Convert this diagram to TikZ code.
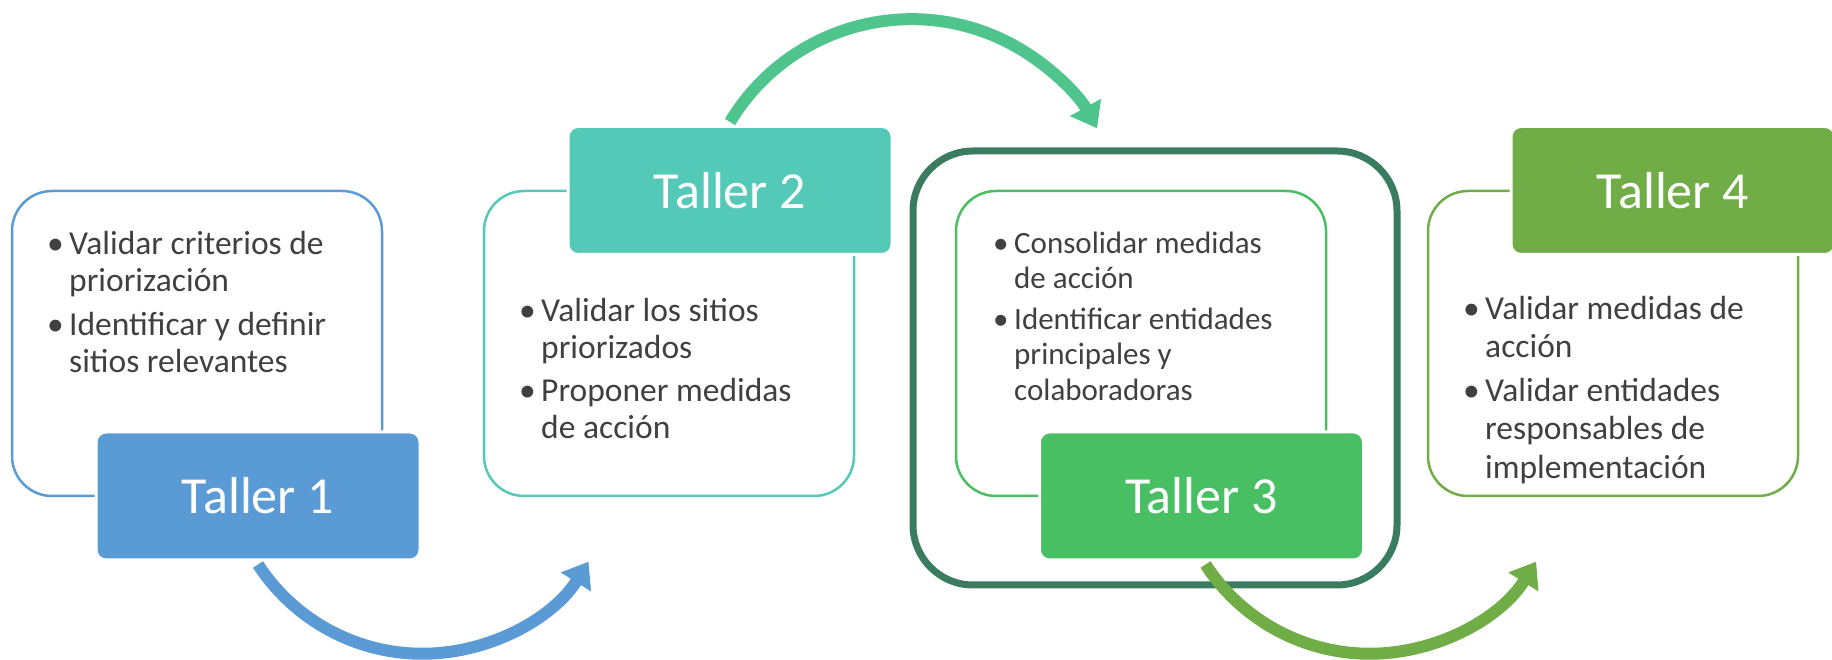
\documentclass[tikz,border=0pt]{standalone}
\usepackage{fontspec}
\setmainfont{Carlito}
\usepackage{tikz}
\usetikzlibrary{shapes,arrows,arrows.meta}
\definecolor{tblue}{HTML}{5B9BD5}
\definecolor{tteal}{HTML}{55C9B8}
\definecolor{tgreen}{HTML}{48BF63}
\definecolor{tolive}{HTML}{70AD47}
\definecolor{tmint}{HTML}{4FC58D}
\definecolor{tdark}{HTML}{3A7C5F}
\definecolor{ttext}{HTML}{404040}
\tikzstyle{panel}=[draw, line width=2.5pt, minimum width=370pt,
    minimum height=305pt, rounded corners=40pt, inner sep=0pt]
\tikzstyle{taller}=[draw=white, line width=3pt, text=white, minimum width=324pt,
    minimum height=128pt, rounded corners=10pt, inner sep=0pt,
    font=\fontsize{52}{60}\selectfont]
\tikzstyle{items}=[anchor=north west, inner sep=0pt,
    text=ttext, font=\fontsize{33.5}{37}\selectfont]
\tikzstyle{curvearrow}=[line width=12pt, -{Triangle[length=24pt,width=34pt]}]

\begin{document}
\begin{tikzpicture}[x=1pt,y=1pt]
\useasboundingbox (0,0) rectangle (1832,660);
% frame round Taller 3
\path (1155,292) node [draw=tdark, line width=7pt, minimum width=484pt,
    minimum height=434pt, rounded corners=60pt] (hl) {};
% panels
\path (197,316.5) node [panel, draw=tblue] (p1) {};
\path (669,316.5) node [panel, draw=tteal] (p2) {};
\path (1141,316.5) node [panel, draw=tgreen] (p3) {};
\path (1613,316.5) node [panel, draw=tolive] (p4) {};
% items
\path (47,432) node [items] (l1) {\begin{tabular}{@{}p{22pt}@{}l@{}}
    \textbullet & Validar criterios de\\ & priorización\\[7pt]
    \textbullet & Identificar y definir\\ & sitios relevantes
  \end{tabular}};
\path (519,365) node [items] (l2) {\begin{tabular}{@{}p{22pt}@{}l@{}}
    \textbullet & Validar los sitios\\ & priorizados\\[6pt]
    \textbullet & Proponer medidas\\ & de acción
  \end{tabular}};
\path (993,432) node [items, font=\fontsize{31}{35.5}\selectfont] (l3) {\begin{tabular}{@{}p{21pt}@{}l@{}}
    \textbullet & Consolidar medidas\\ & de acción\\[5pt]
    \textbullet & Identificar entidades\\ & principales y\\ & colaboradoras
  \end{tabular}};
\path (1463,368) node [items, font=\fontsize{33.5}{38.5}\selectfont] (l4) {\begin{tabular}{@{}p{22pt}@{}l@{}}
    \textbullet & Validar medidas de\\ & acción\\[5pt]
    \textbullet & Validar entidades\\ & responsables de\\ & implementación
  \end{tabular}};
% talleres
\path (258,164) node [taller, fill=tblue] (t1) {Taller 1};
\path (730,469.5) node [taller, fill=tteal] (t2) {Taller 2};
\path (1201.5,164) node [taller, fill=tgreen] (t3) {Taller 3};
\path (1673,469.5) node [taller, fill=tolive] (t4) {Taller 4};
% arrows
\draw [curvearrow, tblue] ([yshift=-3pt]t1.south) arc [start angle=213, end angle=328, radius=196];
\draw [curvearrow, tmint] ([yshift=3pt]t2.north) arc [start angle=149, end angle=29, radius=212];
\draw [curvearrow, tolive] ([xshift=4pt,yshift=-3pt]t3.south) arc [start angle=213, end angle=328, radius=196];
\end{tikzpicture}
\end{document}
